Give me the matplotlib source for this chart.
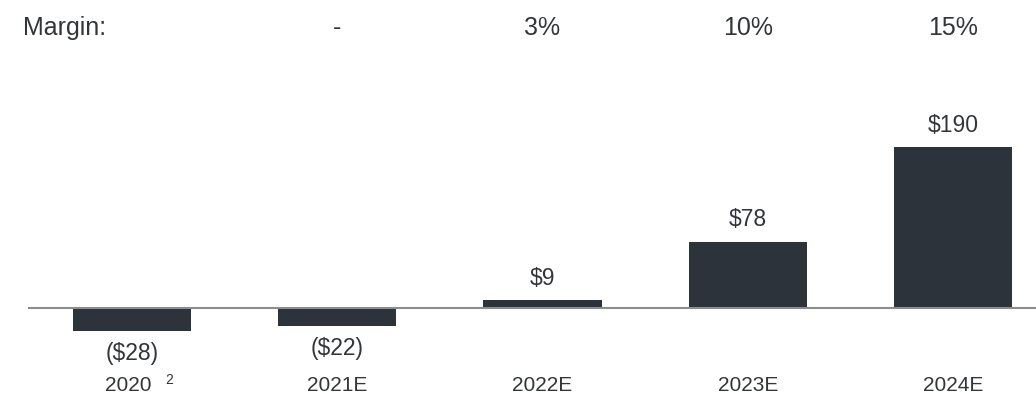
import matplotlib
matplotlib.use("Agg")
import matplotlib.pyplot as plt
import matplotlib.transforms as mtransforms

plt.rcParams['font.family'] = ['Liberation Sans', 'DejaVu Sans']

# EBITDA-style bars, $ values per year
years = ['2020', '2021E', '2022E', '2023E', '2024E']
values = [-28, -22, 9, 78, 190]
value_labels = ['($28)', '($22)', '$9', '$78', '$190']
margins = ['', '-', '3%', '10%', '15%']

bar_color = '#2d333a'
text_color = '#333639'
axis_color = '#8c8c8c'

W, H = 1036, 394
fig = plt.figure(figsize=(W / 100, H / 100), dpi=100)
ax = fig.add_axes([0, 0, 1, 1])

# pixel-based scales: 205.25 px per category, 0.845 px per $1
step = 205.25
first_center = 132
ppu = 0.845
base_px = 307.5  # from top
x = list(range(len(years)))
ax.set_xlim(-first_center / step, (W - first_center) / step)
ax.set_ylim(-(H - base_px) / ppu, base_px / ppu)
ax.axis('off')

ax.bar(x, values, width=118 / step, color=bar_color, zorder=2)
ax.axhline(0, xmin=29 / W, xmax=1, color=axis_color, lw=1.5, zorder=3)

for xi, v, lab in zip(x, values, value_labels):
    dy = 11 if v >= 0 else -20.5
    ax.annotate(lab, (xi, v), xytext=(0, dy), textcoords='offset points',
                ha='center', va='baseline', fontsize=16.5, color=text_color)

# category labels along the bottom
trans = mtransforms.blended_transform_factory(ax.transData, ax.transAxes)
for xi, yr in zip(x, years):
    dx = -3 if yr == '2020' else 0
    ax.annotate(yr, (xi, 3 / H), xycoords=trans, xytext=(dx, 0),
                textcoords='offset points', ha='center', va='baseline',
                fontsize=15, color=text_color)
# footnote marker on 2020
ax.annotate('2', (0, 3 / H), xycoords=trans, xytext=(24, 5.4),
            textcoords='offset points', ha='left', va='baseline',
            fontsize=10, color=text_color)

# margin row across the top
my = 1 - 35 / H
ax.text(23 / W, my, 'Margin:', transform=ax.transAxes, ha='left',
        va='baseline', fontsize=18, color=text_color)
for xi, m in zip(x, margins):
    if m:
        ax.text(xi, my, m, transform=trans, ha='center', va='baseline',
                fontsize=18, color=text_color)

fig.savefig('out.png', dpi=100)
